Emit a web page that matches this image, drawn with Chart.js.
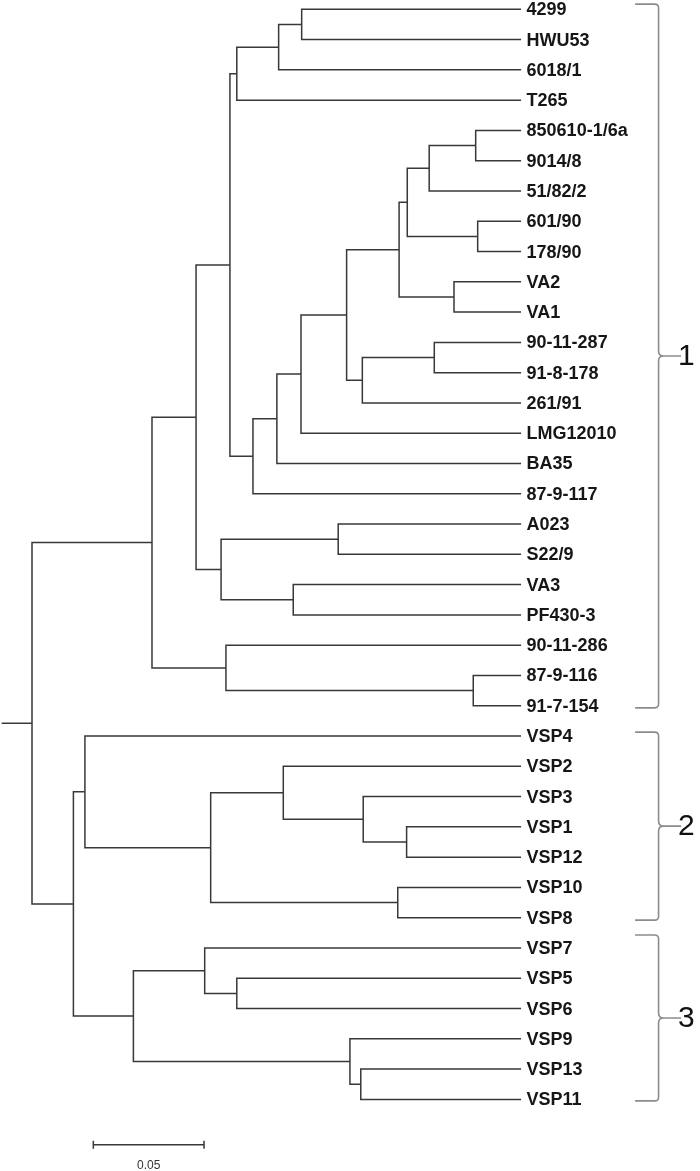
<!DOCTYPE html>
<html>
<head>
<meta charset="utf-8">
<script src="https://cdn.jsdelivr.net/npm/chart.js@4/dist/chart.umd.min.js"></script>
<style>
  html, body { margin: 0; padding: 0; background: #ffffff; overflow: hidden; }
  #wrap { position: relative; width: 700px; height: 1171px; }
</style>
</head>
<body>
<div id="wrap"><canvas id="c"></canvas></div>
<script>
// ---- data ----
const leaves = ['4299','HWU53','6018/1','T265','850610-1/6a','9014/8','51/82/2','601/90','178/90','VA2','VA1',
  '90-11-287','91-8-178','261/91','LMG12010','BA35','87-9-117','A023','S22/9','VA3','PF430-3',
  '90-11-286','87-9-116','91-7-154','VSP4','VSP2','VSP3','VSP1','VSP12','VSP10','VSP8',
  'VSP7','VSP5','VSP6','VSP9','VSP13','VSP11'];
const tipDepth = 0.2209;
const nodeIds   = ['A','B','C','D','E','F','G','H','I','J','K','L','M','N','O','P','Q','R','S','T','U','V','W',
                   'X','Y','Z','AA','AB','AC','AD','AE','AF','AG','AH','AI','root'];
const nodeLeft  = ['4299','A','B','850610-1/6a','D','601/90','E','VA2','G','90-11-287','J','I','L','M','N','C',
                   'A023','VA3','Q','P','87-9-116','90-11-286','T',
                   'VSP1','VSP3','VSP2','VSP10','Z','VSP4','VSP5','VSP7','VSP13','VSP9','AE','AC','W'];
const nodeRight = ['HWU53','6018/1','T265','9014/8','51/82/2','178/90','F','VA1','H','91-8-178','261/91','K',
                   'LMG12010','BA35','87-9-117','O','S22/9','PF430-3','R','S','91-7-154','U','V',
                   'VSP12','X','Y','VSP8','AA','AB','VSP6','AD','VSP11','AF','AG','AH','AI'];
const nodeDepth = [0.1218,0.1114,0.0925,0.2004,0.1794,0.2013,0.1695,0.1906,0.1658,0.1817,0.1492,0.1421,
                   0.1215,0.1106,0.0998,0.0894,0.1383,0.1180,0.0854,0.0741,0.1993,0.0876,0.0542,
                   0.1692,0.1496,0.1135,0.1652,0.0807,0.0239,0.0925,0.0780,0.1485,0.1436,0.0458,0.0187,0.0];
const rootStub = -0.0137;
const groupLabels = ['1','2','3'];
const groupStart  = [-0.17, 23.87, 30.57];
const groupEnd    = [23.07, 30.08, 36.05];
const scaleBarStart = 0.0277;
const scaleBarLength = 0.05;
const scaleBarLabel = '0.05';
const scaleBarRow = 37.5;

// ---- build tree geometry in data units ----
const yOf = {}, xOf = {};
leaves.forEach((n, i) => { yOf[n] = i; xOf[n] = tipDepth; });
nodeIds.forEach((id, k) => {
  yOf[id] = (yOf[nodeLeft[k]] + yOf[nodeRight[k]]) / 2;
  xOf[id] = nodeDepth[k];
});

const LINE = '#383838';
const datasets = [];
nodeIds.forEach((id, k) => {
  const l = nodeLeft[k], r = nodeRight[k], d = nodeDepth[k];
  datasets.push({
    data: [{x: xOf[l], y: yOf[l]}, {x: d, y: yOf[l]}, {x: d, y: yOf[r]}, {x: xOf[r], y: yOf[r]}],
    borderColor: LINE, borderWidth: 1.5, showLine: true, pointRadius: 0, borderJoinStyle: 'miter', tension: 0
  });
});
datasets.push({
  data: [{x: rootStub, y: yOf.root}, {x: 0, y: yOf.root}],
  borderColor: LINE, borderWidth: 1.5, showLine: true, pointRadius: 0
});
// scale bar
datasets.push({
  data: [{x: scaleBarStart, y: scaleBarRow}, {x: scaleBarStart + scaleBarLength, y: scaleBarRow}],
  borderColor: LINE, borderWidth: 1.5, showLine: true, pointRadius: 0
});
[scaleBarStart, scaleBarStart + scaleBarLength].forEach(x => {
  datasets.push({
    data: [{x: x, y: scaleBarRow - 0.13}, {x: x, y: scaleBarRow + 0.13}],
    borderColor: LINE, borderWidth: 1.5, showLine: true, pointRadius: 0
  });
});

// ---- annotation plugin: labels, brackets, scale label ----
const annot = {
  id: 'annot',
  afterDatasetsDraw(chart) {
    const ctx = chart.ctx, xs = chart.scales.x, ys = chart.scales.y;
    const tipPx = xs.getPixelForValue(tipDepth);
    ctx.save();
    // leaf labels
    ctx.fillStyle = '#161616';
    ctx.font = 'bold 18px "Liberation Sans", Arial, sans-serif';
    ctx.textBaseline = 'middle';
    ctx.textAlign = 'left';
    leaves.forEach((n, i) => ctx.fillText(n, tipPx + 5.5, ys.getPixelForValue(i) + 1));
    // brackets
    const xl = tipPx + 114, xv = tipPx + 137.5, xsp = tipPx + 160;
    groupLabels.forEach((g, k) => {
      const t = ys.getPixelForValue(groupStart[k]);
      const b = ys.getPixelForValue(groupEnd[k]);
      const m = (t + b) / 2;
      ctx.strokeStyle = '#8c8c8c';
      ctx.lineWidth = 1.6;
      ctx.beginPath();
      ctx.moveTo(xl, t);
      ctx.lineTo(xv - 4, t);
      ctx.quadraticCurveTo(xv, t, xv, t + 4);
      ctx.lineTo(xv, m - 5);
      ctx.quadraticCurveTo(xv, m, xv + 5, m);
      ctx.lineTo(xsp, m);
      ctx.moveTo(xv + 5, m);
      ctx.quadraticCurveTo(xv, m, xv, m + 5);
      ctx.lineTo(xv, b - 4);
      ctx.quadraticCurveTo(xv, b, xv - 4, b);
      ctx.lineTo(xl, b);
      ctx.stroke();
      ctx.fillStyle = '#111111';
      ctx.font = '30px "Liberation Sans", Arial, sans-serif';
      ctx.textBaseline = 'middle';
      ctx.fillText(g, xsp - 3, m + 1);
    });
    // scale label
    ctx.fillStyle = '#333333';
    ctx.font = '12px "Liberation Sans", Arial, sans-serif';
    ctx.textAlign = 'center';
    ctx.textBaseline = 'middle';
    ctx.fillText(scaleBarLabel, xs.getPixelForValue(scaleBarStart + scaleBarLength / 2), ys.getPixelForValue(scaleBarRow) + 21);
    ctx.restore();
  }
};

new Chart(document.getElementById('c'), {
  type: 'scatter',
  data: { datasets },
  options: {
    responsive: true,
    maintainAspectRatio: false,
    animation: false,
    layout: { padding: 0 },
    plugins: { legend: { display: false }, tooltip: { enabled: false } },
    events: [],
    scales: {
      x: { type: 'linear', display: false, min: -0.014454, max: 0.301716 },
      y: { type: 'linear', display: false, reverse: true, min: -0.3071, max: 38.365 }
    }
  },
  plugins: [annot]
});
</script>
</body>
</html>
